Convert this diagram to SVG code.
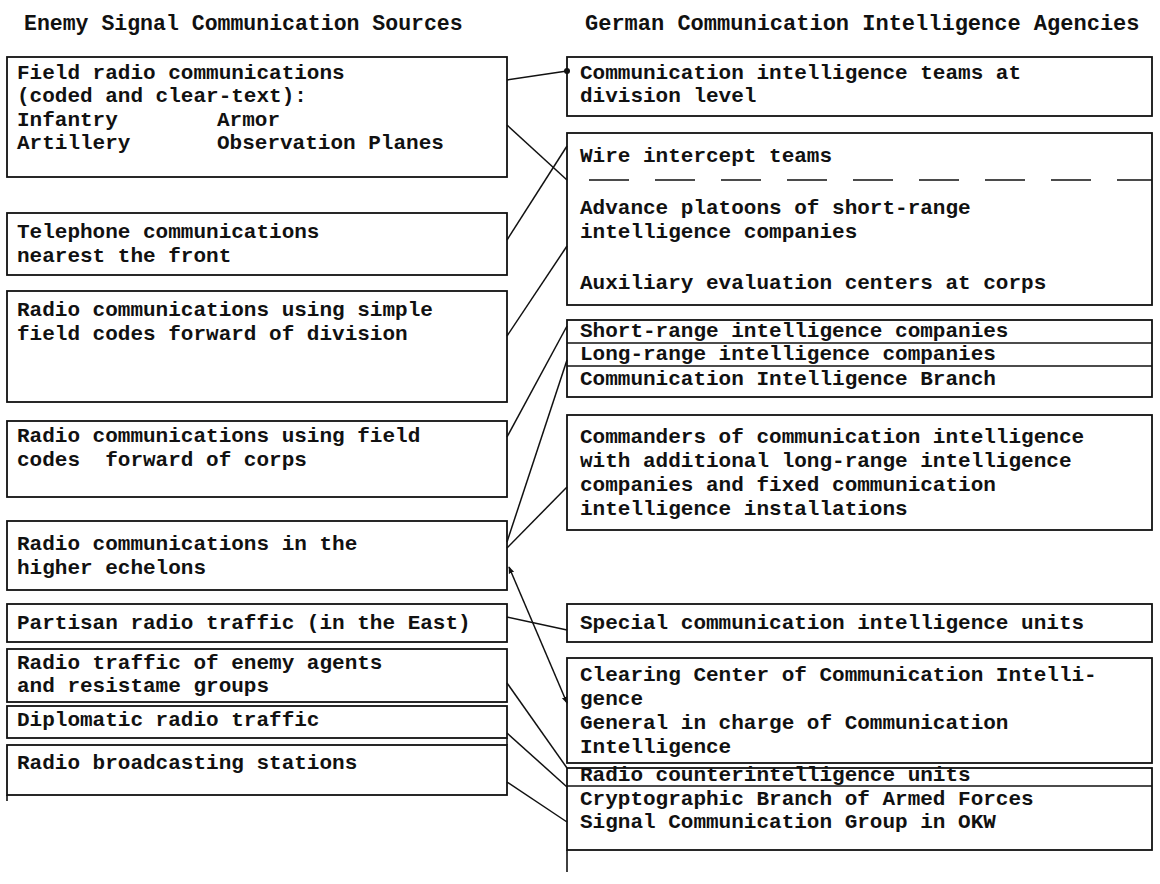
<svg xmlns="http://www.w3.org/2000/svg" width="1160" height="884" viewBox="0 0 1160 884">
<defs>
<style>
.box{fill:none;stroke:#111;stroke-width:1.8}
.sep{stroke:#111;stroke-width:1.6}
.t{font-family:"Liberation Mono","Courier New",monospace;font-size:21px;font-weight:bold;fill:#111}
.h{font-family:"Liberation Mono","Courier New",monospace;font-weight:bold;fill:#111}
.c{fill:none;stroke:#111;stroke-width:1.5}
</style>
<marker id="ah" viewBox="0 0 10 10" refX="9" refY="5" markerWidth="7" markerHeight="7" orient="auto-start-reverse" markerUnits="userSpaceOnUse">
<path d="M0,1 L10,5 L0,9 Z" fill="#111"/>
</marker>
</defs>
<rect width="1160" height="884" fill="#fff"/>
<g id="headers">
<text class="h" x="24" y="30" font-size="21.5">Enemy Signal Communication Sources</text>
<text class="h" x="585" y="30" font-size="22">German Communication Intelligence Agencies</text>
</g>
<g id="L1"><rect class="box" x="7" y="57" width="500" height="120"/>
<text class="t" x="17" y="79">Field radio communications</text>
<text class="t" x="17" y="102">(coded and clear-text):</text>
<text class="t" x="17" y="126">Infantry</text><text class="t" x="217" y="126">Armor</text>
<text class="t" x="17" y="149">Artillery</text><text class="t" x="217" y="149">Observation Planes</text></g>
<g id="L2"><rect class="box" x="7" y="213" width="500" height="62"/>
<text class="t" x="17" y="238">Telephone communications</text>
<text class="t" x="17" y="262">nearest the front</text></g>
<g id="L3"><rect class="box" x="7" y="291" width="500" height="111"/>
<text class="t" x="17" y="316">Radio communications using simple</text>
<text class="t" x="17" y="340">field codes forward of division</text></g>
<g id="L4"><rect class="box" x="7" y="421" width="500" height="76"/>
<text class="t" x="17" y="442">Radio communications using field</text>
<text class="t" x="17" y="466" xml:space="preserve">codes  forward of corps</text></g>
<g id="L5"><rect class="box" x="7" y="521" width="500" height="69"/>
<text class="t" x="17" y="550">Radio communications in the</text>
<text class="t" x="17" y="574">higher echelons</text></g>
<g id="L6"><rect class="box" x="7" y="604" width="500" height="38"/>
<text class="t" x="17" y="629">Partisan radio traffic (in the East)</text></g>
<g id="L7"><rect class="box" x="7" y="649" width="500" height="53"/>
<text class="t" x="17" y="669">Radio traffic of enemy agents</text>
<text class="t" x="17" y="692">and resistame groups</text></g>
<g id="L8"><rect class="box" x="7" y="706" width="500" height="32"/>
<text class="t" x="17" y="726">Diplomatic radio traffic</text></g>
<g id="L9"><rect class="box" x="7" y="745" width="500" height="50"/>
<line class="sep" x1="507" y1="738" x2="507" y2="745"/>
<line class="sep" x1="7" y1="795" x2="7" y2="801"/>
<text class="t" x="17" y="769">Radio broadcasting stations</text></g>

<g id="R1"><rect class="box" x="567" y="57" width="585" height="59"/>
<text class="t" x="580" y="79">Communication intelligence teams at</text>
<text class="t" x="580" y="102">division level</text></g>
<g id="R2"><rect class="box" x="567" y="133" width="585" height="172"/>
<line class="sep" x1="567" y1="180" x2="1152" y2="180" stroke-width="2.5" stroke-dasharray="40,26" stroke-dashoffset="-22"/>
<text class="t" x="580" y="162">Wire intercept teams</text>
<text class="t" x="580" y="214">Advance platoons of short-range</text>
<text class="t" x="580" y="238">intelligence companies</text>
<text class="t" x="580" y="289">Auxiliary evaluation centers at corps</text></g>
<g id="R3"><rect class="box" x="567" y="320" width="585" height="77"/>
<line class="sep" x1="567" y1="343" x2="1152" y2="343"/>
<line class="sep" x1="567" y1="366" x2="1152" y2="366"/>
<text class="t" x="580" y="337">Short-range intelligence companies</text>
<text class="t" x="580" y="360">Long-range intelligence companies</text>
<text class="t" x="580" y="385">Communication Intelligence Branch</text></g>
<g id="R4"><rect class="box" x="567" y="415" width="585" height="115"/>
<text class="t" x="580" y="443">Commanders of communication intelligence</text>
<text class="t" x="580" y="467">with additional long-range intelligence</text>
<text class="t" x="580" y="491">companies and fixed communication</text>
<text class="t" x="580" y="515">intelligence installations</text></g>
<g id="R5"><rect class="box" x="567" y="604" width="585" height="38"/>
<text class="t" x="580" y="629">Special communication intelligence units</text></g>
<g id="R6"><rect class="box" x="567" y="658" width="585" height="105"/>
<text class="t" x="580" y="681">Clearing Center of Communication Intelli-</text>
<text class="t" x="580" y="705">gence</text>
<text class="t" x="580" y="729">General in charge of Communication</text>
<text class="t" x="580" y="753">Intelligence</text></g>
<g id="R7"><rect class="box" x="567" y="768" width="585" height="82"/>
<line class="sep" x1="567" y1="850" x2="567" y2="872"/>
<line class="sep" x1="567" y1="786" x2="1152" y2="786"/>
<text class="t" x="580" y="781">Radio counterintelligence units</text>
<text class="t" x="580" y="805">Cryptographic Branch of Armed Forces</text>
<text class="t" x="580" y="828">Signal Communication Group in OKW</text></g>

<g id="connectors">
<line class="c" x1="507" y1="80" x2="567" y2="71" stroke-width="4.5"/>
<circle cx="567" cy="71" r="3" fill="#111"/>
<line class="c" x1="507" y1="125" x2="567" y2="180"/>
<line class="c" x1="507" y1="240" x2="567" y2="146"/>
<line class="c" x1="507" y1="336" x2="567" y2="246"/>
<line class="c" x1="507" y1="437" x2="567" y2="326" stroke-width="2.5"/>
<line class="c" x1="507" y1="542" x2="567" y2="360" stroke-width="2"/>
<line class="c" x1="507" y1="548" x2="567" y2="487"/>
<line class="c" x1="509" y1="567" x2="567" y2="703" marker-start="url(#ah)" marker-end="url(#ah)"/>
<line class="c" x1="507" y1="617" x2="567" y2="630"/>
<line class="c" x1="507" y1="683" x2="567" y2="768"/>
<line class="c" x1="507" y1="733" x2="567" y2="787"/>
<line class="c" x1="507" y1="782" x2="567" y2="822"/>
</g>
</svg>
